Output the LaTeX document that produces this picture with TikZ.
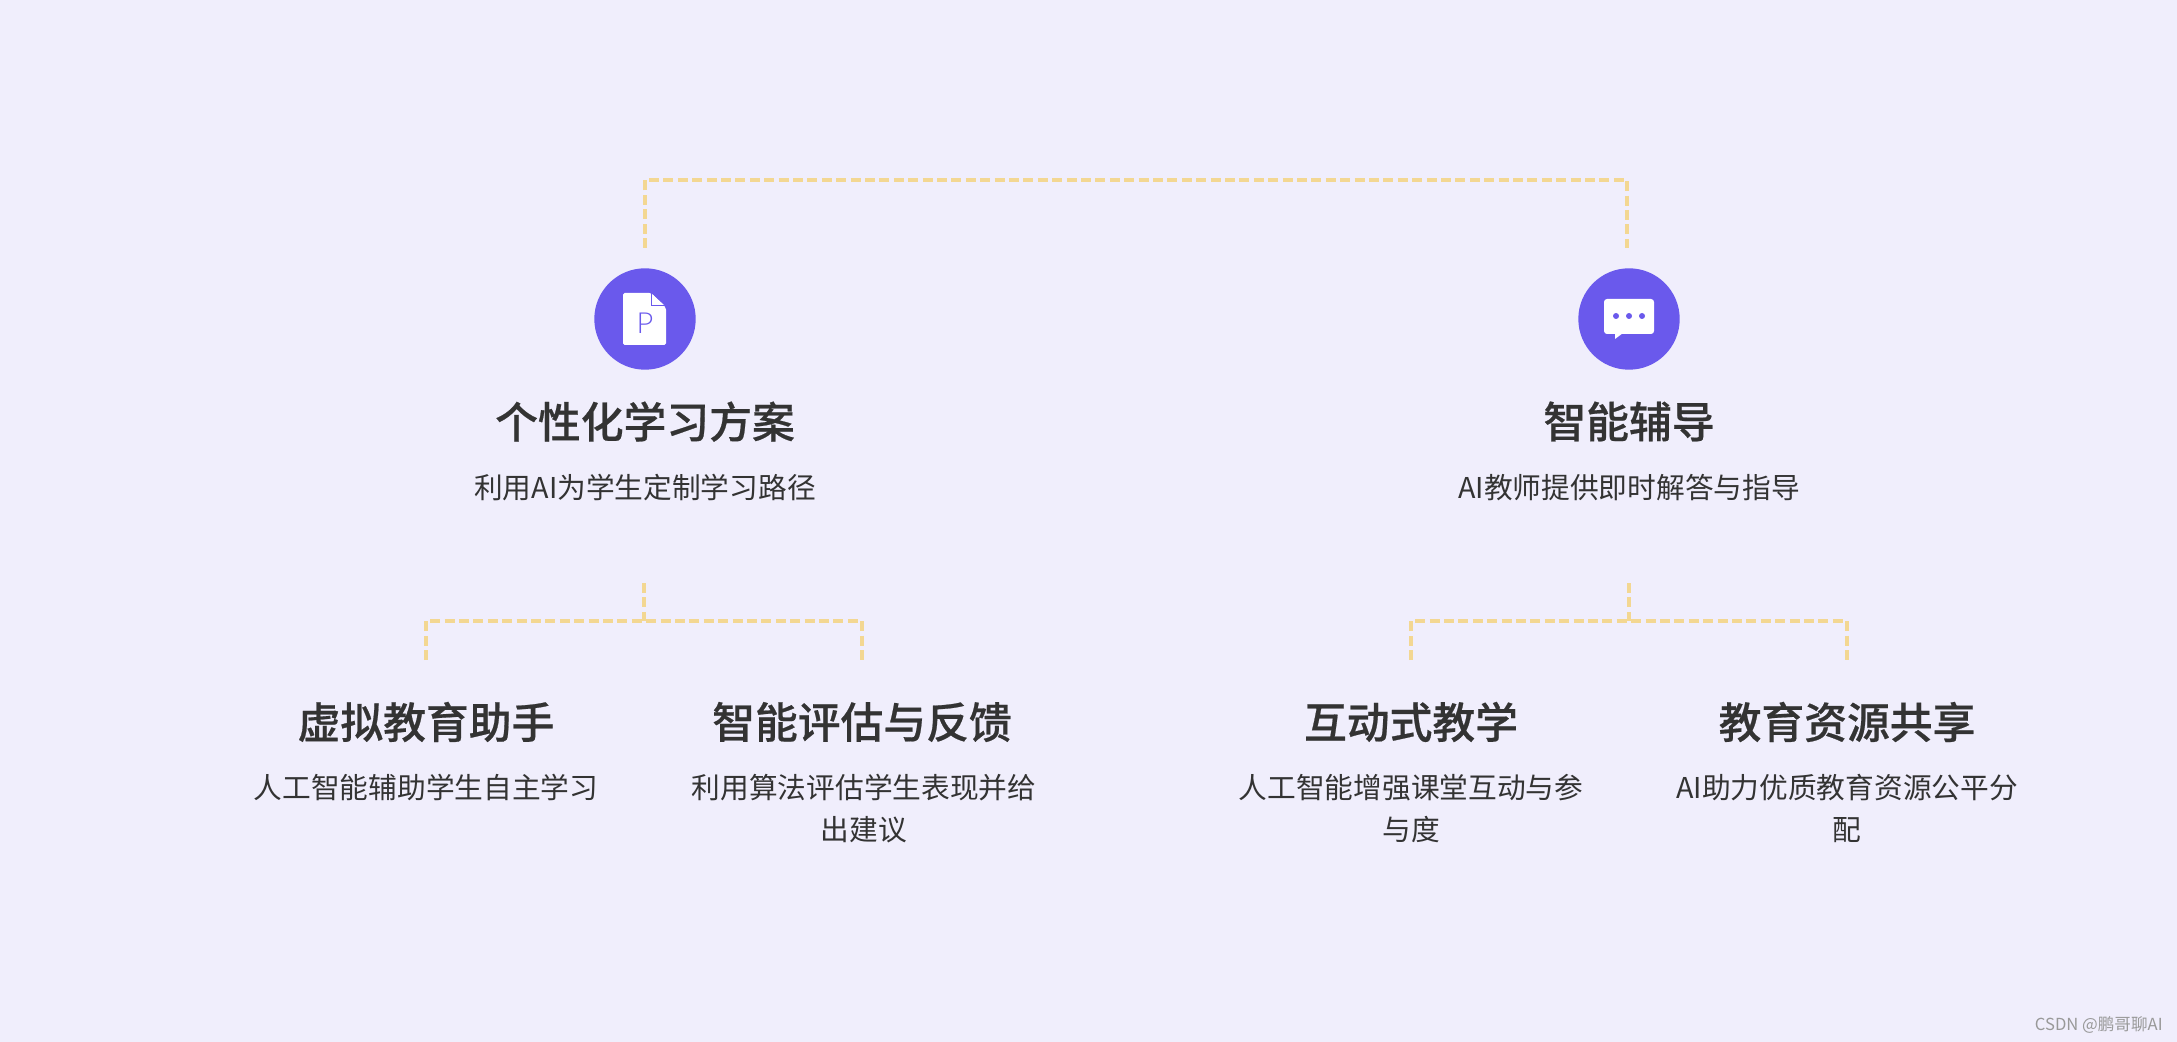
\documentclass[tikz,border=0pt]{standalone}
\usepackage{fontspec}
\usepackage{xcolor}
\usetikzlibrary{positioning}
\setmainfont{Noto Sans CJK SC}[BoldFont={Noto Sans CJK SC Medium},BoldFeatures={FakeBold=0.5}]
\newfontfamily\glyphfont{Lato Light}
\definecolor{pagebg}{HTML}{F0EEFC}
\definecolor{iconfill}{HTML}{6A59EC}
\definecolor{linkcol}{HTML}{F3D792}
\definecolor{textcol}{HTML}{333333}

\begin{document}
\begin{tikzpicture}[
    x=0.5pt, y=-0.5pt,
    badge/.style={circle, fill=iconfill, minimum size=50.7pt, inner sep=0pt},
    heading/.style={inner sep=0pt, text=textcol,
                    font=\fontsize{21.4}{26}\selectfont\bfseries},
    blurb/.style={inner sep=0pt, align=center, text=textcol,
                  font=\fontsize{14.35}{21}\selectfont},
    link/.style={draw=linkcol, line width=2pt, dash pattern=on 5pt off 2.2pt}
]
    \fill[pagebg] (0,0) rectangle (2177,1042);
    \useasboundingbox (0,0) rectangle (2177,1042);

    % Upper branches
    \node[badge] (plan) at (645,319) {};
    \node[heading, below=15.5pt of plan] (planT) {个性化学习方案};
    \node[blurb, below=15.8pt of planT] (planS) {利用AI为学生定制学习路径};

    \node[badge] (tutor) at (1629,319) {};
    \node[heading, below=15.5pt of tutor] (tutorT) {智能辅导};
    \node[blurb, below=15.8pt of tutorT] (tutorS) {AI教师提供即时解答与指导};

    % Lower branches
    \node[heading] (virtT) at (426,722) {虚拟教育助手};
    \node[blurb, below=15.8pt of virtT] (virtS) {人工智能辅助学生自主学习};
    \node[heading] (evalT) at (862,722) {智能评估与反馈};
    \node[blurb, below=15.8pt of evalT, xshift=1pt] (evalS) {利用算法评估学生表现并给\\出建议};
    \node[heading] (interT) at (1411,722) {互动式教学};
    \node[blurb, below=15.8pt of interT] (interS) {人工智能增强课堂互动与参\\与度};
    \node[heading] (shareT) at (1847,722) {教育资源共享};
    \node[blurb, below=15.8pt of shareT] (shareS) {AI助力优质教育资源公平分\\配};

    \node[inner sep=0pt, text=gray!80, font=\fontsize{8.3}{10}\selectfont, anchor=east]
        (mark) at (2163,1025) {CSDN @鹏哥聊AI};

    % Connector ends
    \coordinate (planUp) at (645,248);
    \coordinate (tutorUp) at (1627,248);
    \coordinate (topY) at (0,180);
    \coordinate (planDrop) at (644,583);
    \coordinate (tutorDrop) at (1629,583);
    \coordinate (forkY) at (0,621);
    \coordinate (virtUp) at (426,660);
    \coordinate (evalUp) at (862,660);
    \coordinate (interUp) at (1411,660);
    \coordinate (shareUp) at (1847,660);

    % Dashed connectors
    \draw[link] (planUp) -- (planUp |- topY) -- (tutorUp |- topY) -- (tutorUp);
    \draw[link] (virtUp) -- (virtUp |- forkY) -- (evalUp |- forkY) -- (evalUp);
    \draw[link] (planDrop) -- (planDrop |- forkY);
    \draw[link] (interUp) -- (interUp |- forkY) -- (shareUp |- forkY) -- (shareUp);
    \draw[link] (tutorDrop) -- (tutorDrop |- forkY);

    % File glyph
    \fill[white, rounded corners=0.8pt] (623,293) -- (651,293) -- (666,308)
        -- (666,345) -- (623,345) -- cycle;
    \draw[iconfill, line width=0.5pt] (651,293) -- (651,306) -- (666,306);
    \fill[white] (653,295) -- (664,305) -- (653,305) -- cycle;
    \node[inner sep=0pt, text=iconfill, font=\glyphfont\fontsize{14.5}{15}\selectfont]
        (planP) at (645,323) {P};

    % Chat glyph
    \fill[white, rounded corners=1.5pt] (1604,299) rectangle (1654,334);
    \fill[white] (1615,333) -- (1615,339) -- (1623,333) -- cycle;
    \foreach \dotx in {1616,1629,1642}
        \fill[iconfill] (\dotx,316) circle (1.5pt);
\end{tikzpicture}
\end{document}
